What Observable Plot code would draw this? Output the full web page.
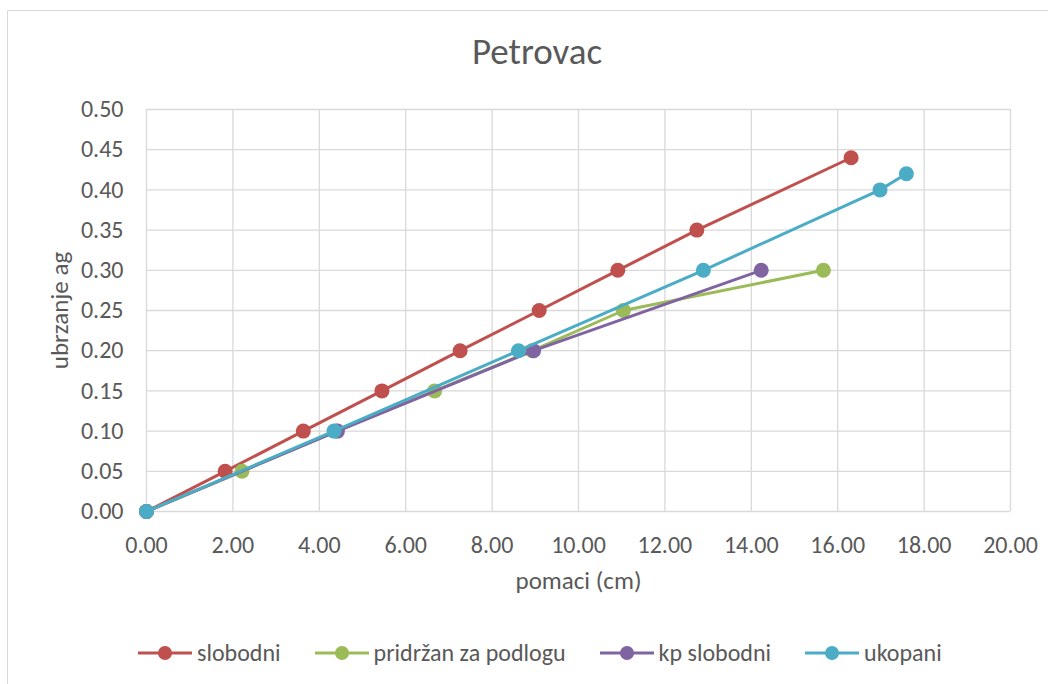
<!DOCTYPE html>
<html>
<head>
<meta charset="utf-8">
<script src="https://cdn.jsdelivr.net/npm/d3@7"></script>
<script src="https://cdn.jsdelivr.net/npm/@observablehq/plot@0.6"></script>
<style>
  html, body { margin: 0; padding: 0; background: #fff; }
  #page { position: relative; width: 1056px; height: 684px; overflow: hidden; font-family: Carlito, Lato, "Open Sans", sans-serif; color: #595959; }
  #frameTop { position: absolute; left: 7px; top: 10px; width: 1041px; height: 0; border-top: 1.5px solid #d9d9d9; }
  #frameLeft { position: absolute; left: 7px; top: 10px; width: 0; height: 680px; border-left: 1.5px solid #d9d9d9; }
  #title { position: absolute; left: 537px; top: 30px; transform: translateX(-50%); font-size: 37px; line-height: 44px; white-space: nowrap; }
  #chart { position: absolute; left: 0; top: 80px; }
  #legend { position: absolute; left: 138px; top: 640px; display: flex; align-items: center; gap: 34px; font-size: 24px; line-height: 26px; white-space: nowrap; }
  .item { display: flex; align-items: center; }
  .item svg { margin-right: 5px; }
</style>
</head>
<body>
<div id="page">
  <div id="frameTop"></div>
  <div id="frameLeft"></div>
  <div id="title">Petrovac</div>
  <div id="chart"></div>
  <div id="legend"></div>
</div>
<script>
// Data
const seriesNames = ["slobodni", "pridržan za podlogu", "kp slobodni", "ukopani"];
const seriesColors = ["#C0504D", "#9BBB59", "#8064A2", "#4BACC6"];

const slobodniX = [0, 1.82, 3.63, 5.45, 7.26, 9.09, 10.91, 12.74, 16.31];
const slobodniY = [0, 0.05, 0.10, 0.15, 0.20, 0.25, 0.30, 0.35, 0.44];

const pridrzanX = [0, 2.21, 4.40, 6.67, 8.93, 11.04, 15.67];
const pridrzanY = [0, 0.05, 0.10, 0.15, 0.20, 0.25, 0.30];

const kpSlobodniX = [0, 4.42, 8.96, 14.23];
const kpSlobodniY = [0, 0.10, 0.20, 0.30];

const ukopaniX = [0, 4.34, 8.61, 12.89, 16.98, 17.59];
const ukopaniY = [0, 0.10, 0.20, 0.30, 0.40, 0.42];

const xTicks = [0, 2, 4, 6, 8, 10, 12, 14, 16, 18, 20];
const yTicks = [0, 0.05, 0.10, 0.15, 0.20, 0.25, 0.30, 0.35, 0.40, 0.45, 0.50];

const xLabel = "pomaci (cm)";
const yLabel = "ubrzanje ag";

const allX = [slobodniX, pridrzanX, kpSlobodniX, ukopaniX];
const allY = [slobodniY, pridrzanY, kpSlobodniY, ukopaniY];

const series = seriesNames.map((name, i) => ({
  name,
  color: seriesColors[i],
  data: allX[i].map((x, j) => ({x, y: allY[i][j]}))
}));

const textColor = "#595959";
const gridColor = "#d9d9d9";

const marks = [
  Plot.gridX(xTicks, {stroke: gridColor, strokeOpacity: 1, strokeWidth: 1.3}),
  Plot.gridY(yTicks, {stroke: gridColor, strokeOpacity: 1, strokeWidth: 1.3}),
  Plot.axisX(xTicks, {tickSize: 0, tickPadding: 24, tickFormat: d => d.toFixed(2), label: null, fill: textColor, fontSize: 24}),
  Plot.axisY(yTicks, {tickSize: 0, tickPadding: 23, tickFormat: d => d.toFixed(2), label: null, fill: textColor, fontSize: 24}),
  Plot.text([xLabel], {frameAnchor: "bottom", dy: 69, textAnchor: "middle", lineAnchor: "middle", fontSize: 25, fill: textColor}),
  Plot.text([yLabel], {frameAnchor: "left", dx: -87, rotate: -90, textAnchor: "middle", lineAnchor: "middle", fontSize: 25, fill: textColor})
];

for (const s of series) {
  marks.push(Plot.line(s.data, {x: "x", y: "y", stroke: s.color, strokeWidth: 3}));
  marks.push(Plot.dot(s.data, {x: "x", y: "y", fill: s.color, r: 7.5, stroke: "none"}));
}

const chart = Plot.plot({
  width: 1056,
  height: 520,
  marginLeft: 146,
  marginRight: 46,
  marginTop: 29,
  marginBottom: 89,
  style: {fontFamily: "Carlito, Lato, 'Open Sans', sans-serif", fontSize: "24px", color: textColor, background: "transparent", overflow: "visible"},
  x: {domain: [0, 20]},
  y: {domain: [0, 0.5]},
  marks
});
document.getElementById("chart").appendChild(chart);

// Legend
const legend = document.getElementById("legend");
for (const s of series) {
  const item = document.createElement("div");
  item.className = "item";
  item.innerHTML = `<svg width="54" height="16"><line x1="0" y1="8" x2="54" y2="8" stroke="${s.color}" stroke-width="3"/><circle cx="27" cy="8" r="7" fill="${s.color}"/></svg><span>${s.name}</span>`;
  legend.appendChild(item);
}
</script>
</body>
</html>
